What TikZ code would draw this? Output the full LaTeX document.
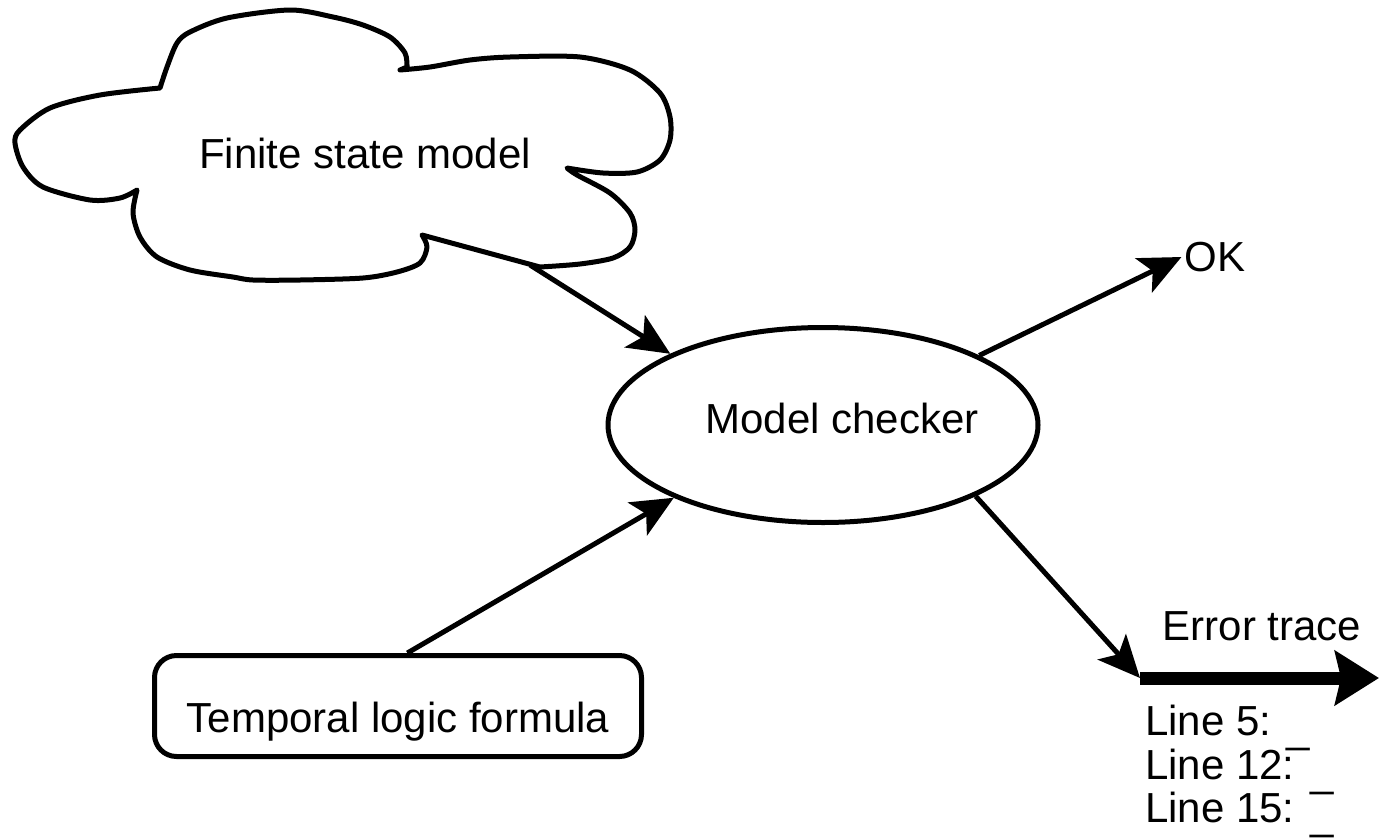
\documentclass[tikz,border=0pt]{standalone}
\usepackage{fontspec}
\setmainfont{Liberation Sans}
\usetikzlibrary{arrows.meta,shapes.geometric}

\newcommand{\blank}{\raisebox{-7pt}{\_}}

\tikzset{
  txt/.style={font=\fontsize{42}{50}\selectfont, inner sep=0pt},
  outline/.style={line width=5pt, line join=round},
  flow/.style={line width=5pt, -{Stealth[length=42pt,width=38pt,inset=10pt]}},
  trace/.style={line width=13pt, -{Stealth[length=44pt,width=54pt,inset=6pt]}},
  checker/.style={outline, draw, ellipse, fill=white, inner sep=0pt,
    minimum width=430pt, minimum height=195pt},
  checkertext/.style={txt, xshift=19pt, text height=20pt, text depth=4pt},
  formula/.style={outline, draw, rectangle, rounded corners=22pt, fill=white,
    minimum width=487pt, minimum height=101pt, inner sep=0pt,
    font=\fontsize{42}{50}\selectfont, text height=60pt, text depth=8pt}
}

\begin{document}
\begin{tikzpicture}[x=1pt, y=-1pt]
\useasboundingbox (0,0) rectangle (1379,839);

% cloud outline, one smooth stroke per bump
\filldraw[outline, fill=white]
  plot[smooth] coordinates {(137,190) (120,198) (90,200) (43,187) (23,167) (15,143) (20,130) (50,108) (100,95) (160,88)}
  -- plot[smooth] coordinates {(160,88) (167,67) (177,43) (190,32) (227,18) (290,10) (333,17) (363,25) (390,37) (405,53) (407,67)}
  -- (400,70)
  -- plot[smooth] coordinates {(400,70) (430,67) (470,60) (510,57) (580,57) (630,70) (660,93) (670,117) (670,140) (660,160) (637,172) (603,173) (567,168)}
  -- plot[smooth] coordinates {(567,168) (577,175) (610,193) (630,213) (635,230) (630,247) (613,258) (580,264) (540,267)}
  -- (422,235)
  -- plot[smooth] coordinates {(422,235) (427,247) (420,263) (397,272) (363,278) (300,280) (253,280) (233,277) (190,270) (157,257) (140,237) (133,213) (137,190)}
  -- cycle;
\node[txt, anchor=base] (fsm) at (365,168) {Finite state model};
\coordinate (cloudtip) at (530,265);

% model checker
\node[checker, label={[checkertext]center:Model checker}] (mc) at (823,425) {};

% temporal logic formula
\node[formula] (tl) at (398,706) {Temporal logic formula};

% outputs
\node[txt, inner sep=3pt] (ok) at (1215,257) {OK};
\coordinate (tracestart) at (1140,678);
\coordinate (traceend) at (1379,678);
\node[txt, anchor=base] (errlabel) at (1262,640) {Error trace};
\node[txt, anchor=base west] (l5) at (1145,735) {Line 5: \blank};
\node[txt, anchor=base west] (l12) at (1145,779) {Line 12: \blank};
\node[txt, anchor=base west] (l15) at (1145,822) {Line 15: \blank};

% connectors
\draw[flow] (cloudtip) -- (mc.155);
\draw[flow] (tl.80) -- (mc.206);
\draw[flow] (mc.24) -- (ok.west);
\draw[flow] (mc.335) -- (tracestart);
\draw[trace] (tracestart) -- (traceend);
\end{tikzpicture}
\end{document}
